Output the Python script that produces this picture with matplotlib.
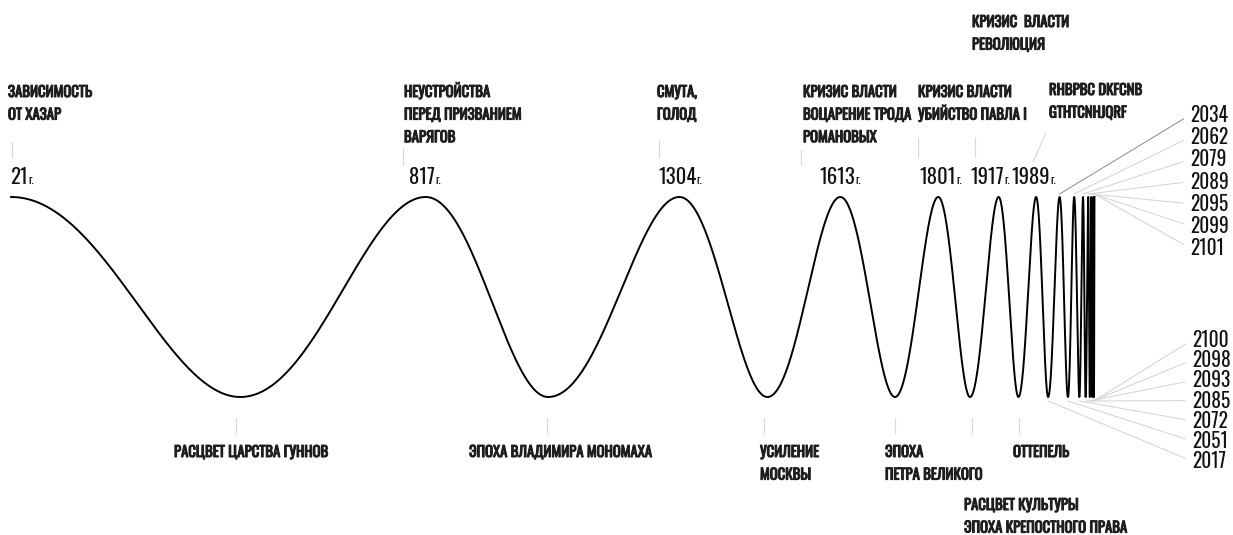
import numpy as np
import matplotlib
matplotlib.use("Agg")
import matplotlib.pyplot as plt
import matplotlib.patheffects as pe
from matplotlib.transforms import Affine2D

# ---------------- data ----------------
peak_years = [21, 817, 1304, 1613, 1801, 1917, 1989, 2034, 2062, 2079, 2089, 2095, 2099, 2101]
trough_years = [461, 1052, 1473, 1718, 1862, 1955, 2012, 2050, 2072, 2084, 2092, 2097, 2100]

peak_year_labels = ["21", "817", "1304", "1613", "1801", "1917", "1989"]

top_events = [
    "ЗАВИСИМОСТЬ\nОТ ХАЗАР",
    "НЕУСТРОЙСТВА\nПЕРЕД ПРИЗВАНИЕМ\nВАРЯГОВ",
    "СМУТА,\nГОЛОД",
    "КРИЗИС ВЛАСТИ\nВОЦАРЕНИЕ ТРОДА\nРОМАНОВЫХ",
    "КРИЗИС ВЛАСТИ\nУБИЙСТВО ПАВЛА I",
    "КРИЗИС  ВЛАСТИ\nРЕВОЛЮЦИЯ",
    "RHBPBC DKFCNB\nGTHTCNHJQRF",
]
bottom_events = [
    "РАСЦВЕТ ЦАРСТВА ГУННОВ",
    "ЭПОХА ВЛАДИМИРА МОНОМАХА",
    "УСИЛЕНИЕ\nМОСКВЫ",
    "ЭПОХА\nПЕТРА ВЕЛИКОГО",
    "РАСЦВЕТ КУЛЬТУРЫ\nЭПОХА КРЕПОСТНОГО ПРАВА",
    "ОТТЕПЕЛЬ",
]
future_peak_labels = ["2034", "2062", "2079", "2089", "2095", "2099", "2101"]
future_trough_labels = ["2100", "2098", "2093", "2085", "2072", "2051", "2017"]

# ---------------- layout / style ----------------
W, H = 1233, 535
PX_PER_YEAR = 1 / 1.92
LABEL_COLOR = "#1e1e1e"
LABEL_FONT = dict(family=["Oswald", "DejaVu Sans"], size=10.6, color=LABEL_COLOR,
                  path_effects=[pe.withStroke(linewidth=0.75, foreground=LABEL_COLOR)])
NUM_FONT = dict(family=["Oswald", "DejaVu Sans"], size=14.8, color="#111111")
SIDE_FONT = dict(family=["Oswald", "DejaVu Sans"], size=14.0, color="#111111")
SMALL_FONT = dict(family=["Oswald", "DejaVu Sans"], size=8.4, color="#111111")
TICK = dict(color="#d8d8d8", lw=0.8, solid_capstyle="butt")
LINE_SP = 22.6

fig = plt.figure(figsize=(W / 100, H / 100), dpi=100)
ax = fig.add_axes([0, 0, 1, 1])
# x axis in years, y axis in wave amplitude (peak=+1, trough=-1)
ax.set_xlim(-0.2 / PX_PER_YEAR, (W - 0.2) / PX_PER_YEAR)
ax.set_ylim((297 - H) / 100, 297 / 100)
ax.axis("off")
pix = Affine2D().scale(1 / W, -1 / H).translate(0, 1) + fig.transFigure

# ---------------- wave ----------------
ext_years = np.array(sorted(peak_years + trough_years), dtype=float)
ext_phase = np.pi * np.arange(len(ext_years))
T = 2102.3
u_ext = -np.log(T - ext_years)               # increasing
u = np.linspace(u_ext[0], u_ext[-1], 30000)
years = T - np.exp(-u)
phase = np.interp(u, u_ext, ext_phase)
ax.plot(years, np.cos(phase), color="black", lw=1.4, solid_joinstyle="round")

# ---------------- top labels ----------------
top_x = [8, 404, 657, 803, 918, 972, 1049]
top_y0 = [97, 97, 97, 97, 97, 27, 95]
for txt, x, y0 in zip(top_events, top_x, top_y0):
    for i, line in enumerate(txt.split("\n")):
        ax.text(x, y0 + i * LINE_SP, line, transform=pix, ha="left", va="baseline", **LABEL_FONT)

top_ticks = [(12, 142, 12, 158), (403, 148, 403, 165), (659, 140, 659, 158),
             (801, 150, 801, 165), (918, 137, 918, 158), (975, 137, 975, 157),
             (1046, 133, 1033, 162)]
for x0, y0, x1, y1 in top_ticks:
    ax.plot([x0, x1], [y0, y1], transform=pix, **TICK)

# year labels over peaks
year_x = [10, 409, 658, 819, 919, 970, 1011]
fig.canvas.draw()
renderer = fig.canvas.get_renderer()
for lab, x in zip(peak_year_labels, year_x):
    t = ax.text(x, 184, lab, transform=pix, ha="left", va="baseline", **NUM_FONT)
    bb = t.get_window_extent(renderer)
    ax.text(bb.x1 + 0.5, 184, "г.", transform=pix, ha="left", va="baseline", **SMALL_FONT)

# ---------------- bottom labels ----------------
bot_x = [174, 469, 760, 885, 964, 1013]
bot_y0 = [457, 457, 457, 457, 510, 457]
for txt, x, y0 in zip(bottom_events, bot_x, bot_y0):
    for i, line in enumerate(txt.split("\n")):
        ax.text(x, y0 + i * LINE_SP, line, transform=pix, ha="left", va="baseline", **LABEL_FONT)

bot_tick_x = [236, 547, 764, 895, 972, 1019]
for x in bot_tick_x:
    ax.plot([x, x], [418, 434], transform=pix, **TICK)

# ---------------- future labels with leaders ----------------
fut_peaks = peak_years[-len(future_peak_labels):]
for i, (lab, yr) in enumerate(zip(future_peak_labels, fut_peaks)):
    col = "#8a8a8a" if i == 0 else "#d2d2d2"
    ax.annotate(lab, xy=(yr, 1.03), xycoords="data",
                xytext=(1190, 122 + i * 22.2), textcoords=pix,
                ha="left", va="baseline", **SIDE_FONT,
                arrowprops=dict(arrowstyle="-", color=col, lw=0.7,
                                shrinkA=3, shrinkB=0, relpos=(0, 0.5)))

fut_troughs = trough_years[-len(future_trough_labels):]
for i, lab in enumerate(future_trough_labels):
    yr = min(fut_troughs, key=lambda t: abs(t - int(lab)))
    ax.annotate(lab, xy=(yr, -1.04), xycoords="data",
                xytext=(1192, 347 + i * 20.2), textcoords=pix,
                ha="left", va="baseline", **SIDE_FONT,
                arrowprops=dict(arrowstyle="-", color="#d2d2d2", lw=0.7,
                                shrinkA=3, shrinkB=0, relpos=(0, 0.5)))

fig.savefig("out.png", dpi=100)
